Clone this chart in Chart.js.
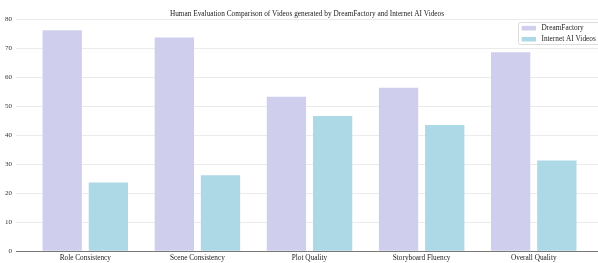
<!DOCTYPE html>
<html>
<head>
<meta charset="utf-8">
<script src="https://cdn.jsdelivr.net/npm/chart.js@4.4.1/dist/chart.umd.min.js"></script>
<style>
html,body{margin:0;padding:0;background:#fff;}
#wrap{width:598px;height:263px;position:relative;}
</style>
</head>
<body>
<div id="wrap"><canvas id="c"></canvas></div>
<script>
const categories = ["Role Consistency", "Scene Consistency", "Plot Quality", "Storyboard Fluency", "Overall Quality"];
const dreamFactory = [76.3, 73.8, 53.3, 56.4, 68.7];
const internetAI = [23.7, 26.2, 46.7, 43.6, 31.3];
const yTicks = [0, 10, 20, 30, 40, 50, 60, 70, 80];
const seriesNames = ["DreamFactory", "Internet AI Videos"];
const colors = ["#cfcfed", "#add8e6"];
const FONT = "'Liberation Serif', 'Times New Roman', serif";

const legendPlugin = {
  id: 'innerLegend',
  afterDraw(chart) {
    const ctx = chart.ctx;
    ctx.save();
    const x = 518.5, y = 22.5, w = 82, h = 22;
    ctx.beginPath();
    if (ctx.roundRect) ctx.roundRect(x, y, w, h, 2); else ctx.rect(x, y, w, h);
    ctx.fillStyle = 'rgba(255,255,255,0.85)';
    ctx.fill();
    ctx.strokeStyle = '#dddddd';
    ctx.lineWidth = 1;
    ctx.stroke();
    ctx.font = "7.3px " + FONT;
    ctx.textBaseline = 'middle';
    ctx.textAlign = 'left';
    chart.data.datasets.forEach((ds, i) => {
      const cy = 28.2 + i * 11;
      ctx.fillStyle = ds.backgroundColor;
      ctx.fillRect(521.7, cy - 2.3, 14.3, 4.6);
      ctx.fillStyle = '#222';
      ctx.fillText(ds.label, 541.5, cy);
    });
    ctx.restore();
  }
};

new Chart(document.getElementById('c'), {
  type: 'bar',
  data: {
    datasets: [
      { label: seriesNames[0], data: categories.map((c, i) => ({x: i, y: dreamFactory[i]})), backgroundColor: colors[0], borderWidth: 0 },
      { label: seriesNames[1], data: categories.map((c, i) => ({x: i, y: internetAI[i]})), backgroundColor: colors[1], borderWidth: 0 }
    ]
  },
  options: {
    responsive: true,
    maintainAspectRatio: false,
    animation: false,
    categoryPercentage: 0.8234,
    barPercentage: 0.8516,
    layout: { padding: 0 },
    plugins: {
      legend: { display: false },
      tooltip: { enabled: false },
      title: {
        display: true,
        fullSize: false,
        text: 'Human Evaluation Comparison of Videos generated by DreamFactory and Internet AI Videos',
        font: { family: FONT, size: 7.3, weight: 'normal', lineHeight: 1.2 },
        color: '#222',
        padding: { top: 9.5, bottom: 1.2 }
      }
    },
    scales: {
      x: {
        type: 'linear',
        min: -0.618,
        max: 4.573,
        offset: false,
        grid: { display: false, drawTicks: false },
        border: { display: true, color: '#777', width: 1 },
        afterBuildTicks(scale) { scale.ticks = categories.map((c, i) => ({ value: i })); },
        afterFit(scale) { scale.height = 11.7; },
        ticks: {
          autoSkip: false,
          maxRotation: 0,
          padding: 2.5,
          color: '#222',
          font: { family: FONT, size: 7.3 },
          callback: (v) => categories[v]
        }
      },
      y: {
        min: 0,
        max: 80,
        afterBuildTicks(scale) { scale.ticks = yTicks.map(v => ({ value: v })); },
        afterFit(scale) { scale.width = 16; },
        grid: { color: '#ebebeb', lineWidth: 1, drawTicks: false },
        border: { display: false },
        ticks: {
          padding: 4,
          color: '#333',
          font: { family: FONT, size: 7 }
        }
      }
    }
  },
  plugins: [legendPlugin]
});
</script>
</body>
</html>
